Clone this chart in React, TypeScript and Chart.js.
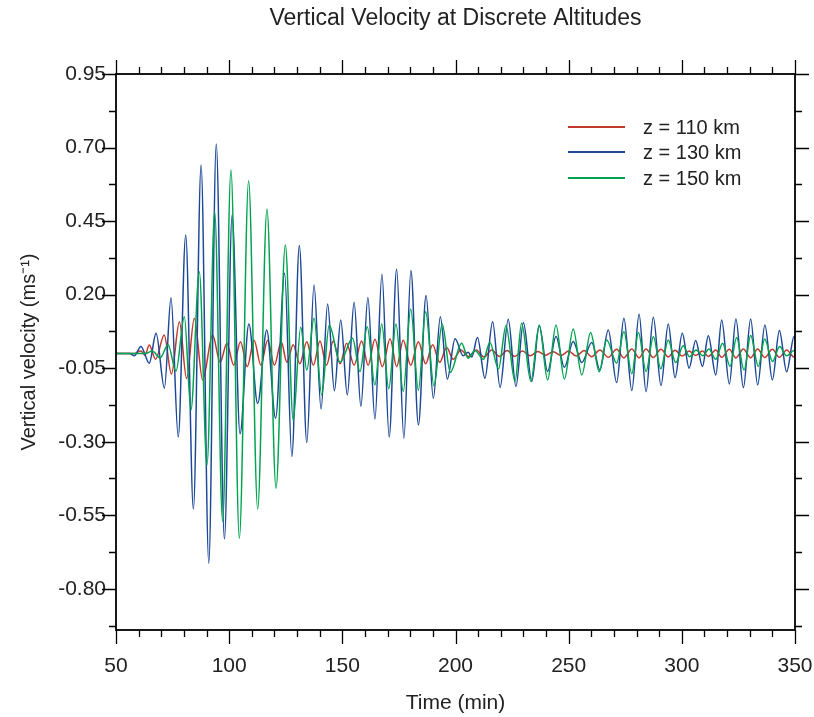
import { useEffect, useRef } from 'react';
import { Chart, registerables } from 'chart.js';
Chart.register(...registerables);

const TITLE = 'Vertical Velocity at Discrete Altitudes';
const X_TITLE = 'Time (min)';
const Y_TITLE = 'Vertical velocity (ms⁻¹)';
const X_MIN = 50, X_MAX = 350;
const Y_MIN = -0.94, Y_MAX = 0.95;
const X_TICKS = [50, 100, 150, 200, 250, 300, 350];
const Y_TICKS = [0.95, 0.70, 0.45, 0.20, -0.05, -0.30, -0.55, -0.80];
const LABELS = ['z = 110 km', 'z = 130 km', 'z = 150 km'];
const COLORS = ['#c0392b', '#1c4896', '#00a34f'];

// z = 110 km : times (min) and values at turning points
const T110 = [50, 58, 61, 62.8, 64.7, 67.5, 71.3, 74.5, 78, 81.2, 84.6, 88.3, 92.7, 96, 99, 102, 105, 108, 111, 114, 117, 120, 123, 125.5,
  128.3, 131.2, 134.3, 137.2, 140.1, 143, 146.0, 149, 151.9, 155.2, 158.5, 161.4, 164.4, 167.7, 171.1, 174, 176.9, 180.2, 183.6, 186.8, 189.9, 193, 196.1, 199,
  202.4, 205.8, 209.2, 212.6, 216, 219.4, 222.8, 226.2, 229.6, 233, 236.4, 239.8, 243.2, 246.6, 250, 253.4, 256.8, 260.2,
  263.8, 267.5, 271.2, 274.4, 277.9, 281.1, 284.2, 287.4, 290.8, 294.0, 297.0, 300.2, 303.2, 306.1, 309.1, 311.7, 315.0, 317.6, 321.0, 323.9, 327.2, 330.4, 333.5, 336.7, 340.0, 343.1, 346.3, 349.6, 350];
const V110 = [0, 0, 0.008, -0.006, 0.029, -0.02, 0.063, -0.07, 0.108, -0.085, 0.12, -0.09, 0.063, -0.03, 0.035, -0.04, 0.04, -0.045, 0.045, -0.04, 0.045, -0.04, 0.04, -0.03,
  0.03, -0.035, 0.04, -0.04, 0.042, -0.04, 0.042, -0.035, 0.035, -0.04, 0.042, -0.04, 0.048, -0.045, 0.05, -0.045, 0.045, -0.04, 0.04, -0.035, 0.03, -0.03, 0.02, -0.02,
  0.012, -0.01, 0.012, -0.012, 0.012, -0.01, 0.01, -0.01, 0.008, -0.008, 0.007, -0.006, 0.006, -0.007, 0.008, -0.009, 0.01, -0.011,
  0.012, -0.013, 0.014, -0.015, 0.015, -0.015, 0.015, -0.014, 0.014, -0.012, 0.011, -0.009, 0.008, -0.007, 0.008, -0.01, 0.012, -0.013, 0.014, -0.015, 0.015, -0.015, 0.015, -0.014, 0.014, -0.013, 0.012, -0.012, -0.01];

// z = 130 km
const T130 = [50, 56, 58.1, 61, 64.7, 67.7, 71.4, 74.3, 77.5, 80.8, 84.2, 87.6, 91.0, 94.3, 97.9, 101.3, 104.8, 108.7, 112.6, 116.6, 120.5,
  124.5, 127.7, 131.0, 134.3, 137.5, 140.6, 143.5, 146.5, 149.3, 152.2, 155.2, 158.2, 161.3, 164.4, 167.5, 170.7, 174.0, 177.2, 180.3, 183.6, 187.0, 190.2, 193.3, 196.4, 199.8, 203.4, 205.6, 207.2,
  209.7, 213.0, 216.4, 219.7, 223.3, 226.7, 230.0, 233.7, 237.0, 240.7, 244.4, 248.1, 252.0, 255.8, 260.2, 263.8, 267.5, 271.2, 274.4, 277.9, 281.1, 284.2, 287.4, 290.8, 294.0, 297.0,
  300.2, 303.2, 306.1, 309.1, 311.7, 315.0, 317.6, 321.0, 323.9, 327.2, 330.4, 333.5, 336.7, 340.0, 343.1, 346.3, 349.6, 350];
const V130 = [0, 0, -0.008, 0.024, -0.033, 0.069, -0.118, 0.189, -0.284, 0.403, -0.529, 0.641, -0.713, 0.712, -0.631, 0.471, -0.273, 0.10, -0.17, 0.08, -0.22,
  0.273, -0.350, 0.367, -0.303, 0.233, -0.189, 0.168, -0.127, 0.114, -0.141, 0.174, -0.180, 0.190, -0.223, 0.269, -0.284, 0.286, -0.288, 0.282, -0.243, 0.197, -0.152, 0.125, -0.087, 0.050, -0.008, 0.004, -0.012,
  0.054, -0.084, 0.108, -0.115, 0.116, -0.112, 0.105, -0.095, 0.094, -0.061, 0.058, -0.047, 0.041, -0.031, 0.037, -0.056, 0.080, -0.099, 0.120, -0.126, 0.133, -0.130, 0.123, -0.109, 0.100, -0.082,
  0.069, -0.050, 0.044, -0.044, 0.060, -0.073, 0.114, -0.104, 0.117, -0.116, 0.117, -0.107, 0.097, -0.090, 0.078, -0.062, 0.058, 0.05];

// z = 150 km
const T150 = [50, 63, 66, 69.5, 73, 76.5, 80.2, 83.1, 86.8, 90.2, 93.6, 97.1, 100.8, 104.5, 108.6, 112.6, 116.7, 120.7, 124.8, 128.3, 131.6, 134.3, 137.5, 140.9, 144.2, 149.0, 154.5,
  157.8, 161.0, 164.4, 167.4, 170.5, 173.7, 176.9, 180.2, 183.6, 186.8, 190.5, 194.1, 197.7, 202.7, 205.6, 208.6, 212.3, 215.2, 219.0, 222.3, 226.3, 229.2, 233.3, 237.0, 240.7, 244.4, 248.1, 252.0, 255.8, 259.7,
  263.5, 266.8, 271.2, 274.4, 277.9, 280.8, 284.2, 287.4, 290.7, 294.0, 297.3, 300.6, 303.4, 306.3, 309.3, 312.0, 315.0, 318.0, 321.3, 324.2, 327.5, 330.4, 333.8, 336.6, 340.1, 343.2, 346.3, 349.6, 350];
const V150 = [0, 0, 0.008, -0.015, 0.03, -0.06, 0.125, -0.192, 0.278, -0.379, 0.482, -0.571, 0.624, -0.628, 0.587, -0.529, 0.491, -0.458, 0.369, -0.226, 0.089, -0.056, 0.120, -0.141, 0.097, -0.03, 0.052,
  -0.061, 0.091, -0.107, 0.100, -0.12, 0.100, -0.129, 0.151, -0.125, 0.142, -0.11, 0.100, -0.064, 0.035, -0.016, 0.01, -0.02, 0.037, -0.052, 0.094, -0.095, 0.103, -0.095, 0.097, -0.090, 0.097, -0.087, 0.083, -0.073, 0.071,
  -0.062, 0.046, -0.033, 0.074, -0.069, 0.071, -0.061, 0.057, -0.052, 0.046, -0.031, 0.026, -0.011, 0.012, -0.008, 0.015, -0.02, 0.035, -0.044, 0.054, -0.056, 0.061, -0.044, 0.049, -0.027, 0.024, -0.008, 0.01, 0.008];

const SERIES_T = [T110, T130, T150];
const SERIES_V = [V110, V130, V150];

const FONT = 'Liberation Sans, Arial, Helvetica, sans-serif';

const decorPlugin = {
  id: 'decor',
  afterDraw(chart: any) {
    const { ctx, chartArea } = chart;
    const { left, right, top, bottom } = chartArea;
    const xs = chart.scales.x;
    const ys = chart.scales.y;
    ctx.save();
    ctx.strokeStyle = '#000';
    ctx.lineWidth = 1.8;
    ctx.strokeRect(left, top, right - left, bottom - top);
    const MAJ = 14, MIN = 7;
    ctx.lineWidth = 1.3;
    ctx.beginPath();
    for (let v = X_MIN; v <= X_MAX + 1e-9; v += 10) {
      const px = Math.round(xs.getPixelForValue(v)) + 0.5;
      const len = X_TICKS.includes(v) ? MAJ : MIN;
      ctx.moveTo(px, bottom); ctx.lineTo(px, bottom + len);
      ctx.moveTo(px, top); ctx.lineTo(px, top - len);
    }
    for (let k = 0; ; k++) {
      const v = Y_MAX - 0.125 * k;
      if (v < Y_MIN) break;
      const py = Math.round(ys.getPixelForValue(v)) + 0.5;
      const len = k % 2 === 0 ? MAJ : MIN;
      ctx.moveTo(left, py); ctx.lineTo(left - len, py);
      ctx.moveTo(right, py); ctx.lineTo(right + len, py);
    }
    ctx.stroke();
    // title
    ctx.fillStyle = '#222';
    ctx.font = `23px ${FONT}`;
    ctx.textAlign = 'center';
    ctx.textBaseline = 'middle';
    ctx.fillText(TITLE, (left + right) / 2, 19);
    // legend
    const lx0 = 568, lx1 = 625, tx = 643;
    const ly = [127, 152, 178];
    ctx.font = `20px ${FONT}`;
    ctx.textAlign = 'left';
    chart.data.datasets.forEach((ds: any, i: number) => {
      ctx.strokeStyle = ds.borderColor;
      ctx.lineWidth = 2;
      ctx.beginPath();
      ctx.moveTo(lx0, ly[i]); ctx.lineTo(lx1, ly[i]);
      ctx.stroke();
      ctx.fillStyle = '#222';
      ctx.fillText(ds.label, tx, ly[i] + 1);
    });
    ctx.restore();
  },
};

export default function App() {
  const ref = useRef<HTMLCanvasElement>(null);
  useEffect(() => {
    if (!ref.current) return;
    const datasets = SERIES_T.map((T, s) => ({
      label: LABELS[s],
      data: T.map((t, i) => ({ x: t, y: SERIES_V[s][i] })),
      borderColor: COLORS[s],
      backgroundColor: COLORS[s],
      borderWidth: 1.5,
      pointRadius: 0,
      cubicInterpolationMode: 'monotone' as const,
      fill: false,
      order: 2 - s,
    }));
    const chart = new Chart(ref.current, {
      type: 'line',
      data: { datasets },
      options: {
        animation: false,
        responsive: true,
        maintainAspectRatio: false,
        layout: { padding: { left: 0, right: 19, top: 74, bottom: 0 } },
        plugins: { legend: { display: false }, title: { display: false }, tooltip: { enabled: false } },
        scales: {
          x: {
            type: 'linear',
            min: X_MIN,
            max: X_MAX,
            grid: { display: false, drawTicks: false },
            border: { display: false },
            afterBuildTicks: (s: any) => { s.ticks = X_TICKS.map((v) => ({ value: v })); },
            afterFit: (s: any) => { s.height = 87; s.paddingLeft = 0; s.paddingRight = 0; },
            ticks: { padding: 24, color: '#222', font: { family: FONT, size: 21 }, maxRotation: 0, autoSkip: false },
            title: { display: true, text: X_TITLE, color: '#222', font: { family: FONT, size: 21 }, padding: { top: 0, bottom: 1 } },
          },
          y: {
            type: 'linear',
            min: Y_MIN,
            max: Y_MAX,
            grid: { display: false, drawTicks: false },
            border: { display: false },
            afterBuildTicks: (s: any) => { s.ticks = Y_TICKS.map((v) => ({ value: v })); },
            afterFit: (s: any) => { s.width = 116; s.paddingTop = 0; s.paddingBottom = 0; },
            ticks: { padding: 10, color: '#222', font: { family: FONT, size: 21 }, autoSkip: false, callback: (v: any) => Number(v).toFixed(2) },
            title: { display: true, text: Y_TITLE, color: '#222', font: { family: FONT, size: 20 }, padding: { top: 17, bottom: 0 } },
          },
        },
      },
      plugins: [decorPlugin],
    });
    return () => chart.destroy();
  }, []);
  return (
    <div style={{ position: 'absolute', left: 0, top: 0, width: 814, height: 717, background: '#fff' }}>
      <canvas ref={ref} />
    </div>
  );
}
